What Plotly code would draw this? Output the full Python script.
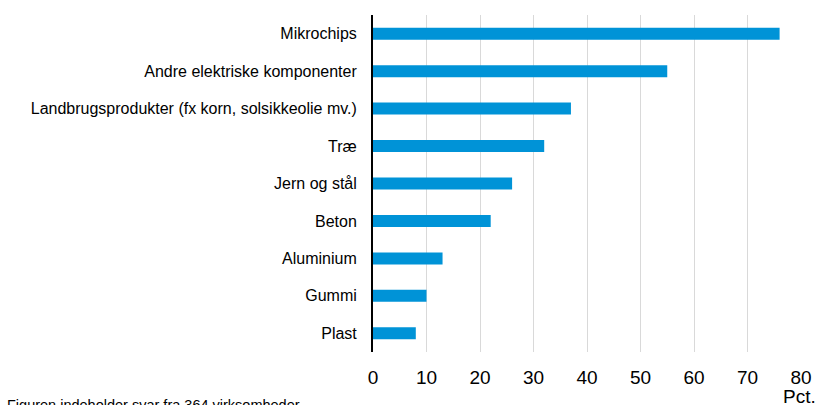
import plotly.graph_objects as go

categories = [
    "Mikrochips",
    "Andre elektriske komponenter",
    "Landbrugsprodukter (fx korn, solsikkeolie mv.)",
    "Træ",
    "Jern og stål",
    "Beton",
    "Aluminium",
    "Gummi",
    "Plast",
]
values = [76, 55, 37, 32, 26, 22, 13, 10, 8]
x_ticks = [0, 10, 20, 30, 40, 50, 60, 70, 80]

W, H = 820, 405
L, R, T, B = 373, 18.5, 15, 53
pw = W - L - R
ph = H - T - B


def px_x(x):
    return (x - L) / pw


def px_y(y):
    return (H - B - y) / ph


fig = go.Figure(
    go.Bar(
        x=values,
        y=categories,
        orientation="h",
        marker=dict(color="#0093d7", line=dict(width=0)),
        hoverinfo="x+y",
    )
)

fig.update_layout(
    template="none",
    width=W,
    height=H,
    margin=dict(l=L, r=R, t=T, b=B, autoexpand=False),
    paper_bgcolor="white",
    plot_bgcolor="white",
    bargap=0.68,
    showlegend=False,
    font=dict(family="Liberation Sans, Arial, sans-serif", color="black"),
    xaxis=dict(
        range=[0, 80],
        tickvals=x_ticks,
        ticktext=[str(v) for v in x_ticks],
        showgrid=True,
        gridcolor="#d9d9d9",
        gridwidth=1,
        zeroline=False,
        showline=False,
        ticks="",
        tickfont=dict(size=19),
        ticklabelstandoff=12,
        automargin=False,
        fixedrange=True,
    ),
    yaxis=dict(
        categoryorder="array",
        categoryarray=categories[::-1],
        range=[-0.5, len(categories) - 0.5],
        showline=True,
        linecolor="black",
        linewidth=2,
        showgrid=False,
        zeroline=False,
        ticks="",
        tickfont=dict(size=16),
        ticklabelstandoff=11,
        automargin=False,
        fixedrange=True,
    ),
    annotations=[
        dict(
            text="Pct.",
            xref="paper", yref="paper",
            x=px_x(W - 1), y=px_y(409),
            xanchor="right", yanchor="bottom",
            showarrow=False,
            font=dict(size=19),
        ),
        dict(
            text="(Angivet i alt)",
            xref="paper", yref="paper",
            x=px_x(18), y=px_y(2.5),
            xanchor="left", yanchor="bottom",
            showarrow=False,
            font=dict(size=19),
        ),
        dict(
            text="Figuren indeholder svar fra 364 virksomheder",
            xref="paper", yref="paper",
            x=px_x(5), y=px_y(405),
            xanchor="left", yanchor="middle",
            showarrow=False,
            font=dict(size=14.5),
        ),
    ],
)

fig.write_html(
    "out.html",
    config={"displayModeBar": False},
    post_script="document.body.style.margin='0';document.body.style.overflow='hidden';",
)
